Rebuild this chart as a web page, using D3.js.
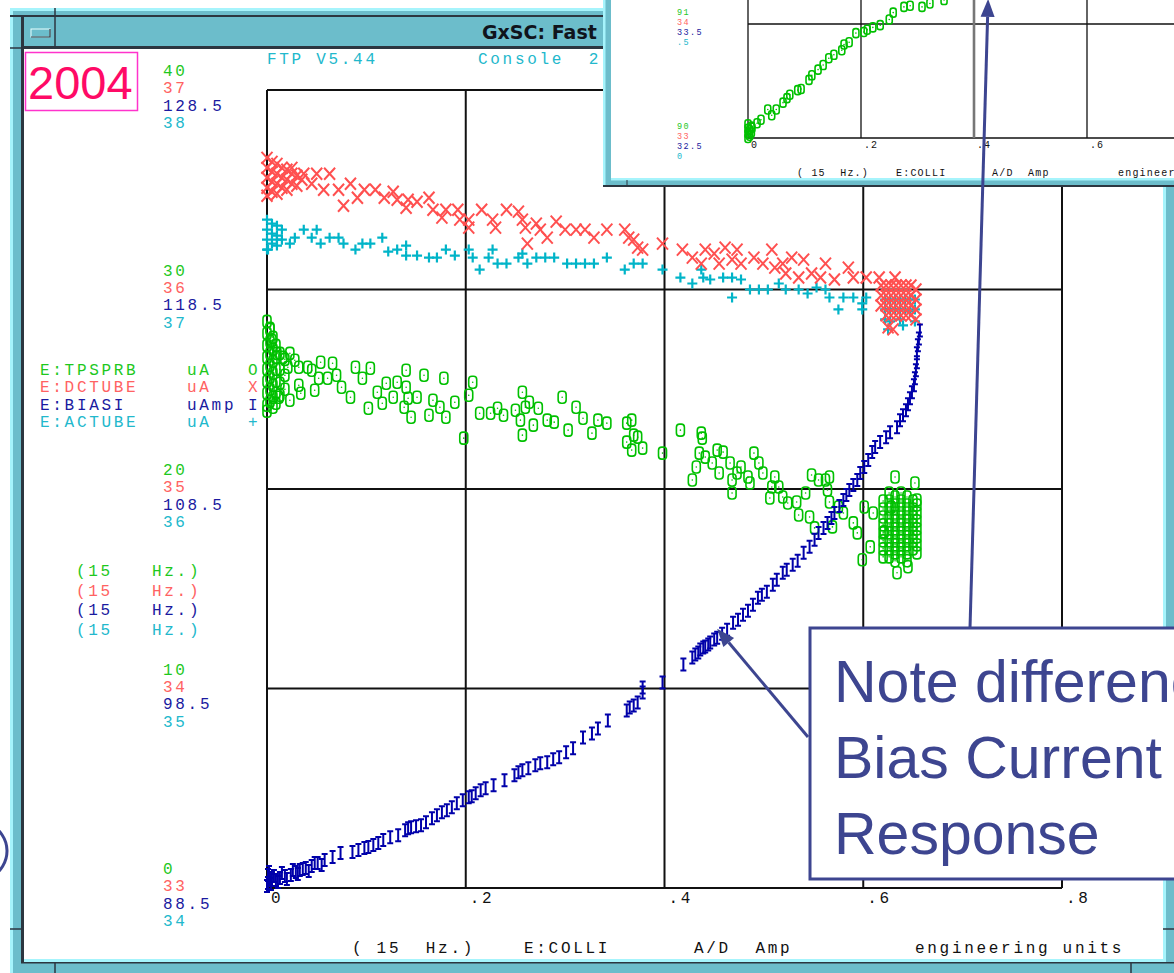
<!DOCTYPE html>
<html>
<head>
<meta charset="utf-8">
<script src="https://cdn.jsdelivr.net/npm/d3@7"></script>
<style>
  body { margin: 0; background: #fff; }
  svg { display: block; }
</style>
</head>
<body>
<svg id="chart" width="1174" height="973"></svg>
<script>
// ---- data ----
const xTicks = [0, 0.2, 0.4, 0.6, 0.8];
const tpsprbTicks = [0, 10, 20, 30, 40];
const dctubeTicks = [33, 34, 35, 36, 37];
const biasiTicks = [88.5, 98.5, 108.5, 118.5, 128.5];
const actubeTicks = [34, 35, 36, 37, 38];

const channels = ["E:TPSPRB", "E:DCTUBE", "E:BIASI", "E:ACTUBE"];
const units = ["uA", "uA", "uAmp", "uA"];
const symbols = ["O", "X", "I", "+"];

// E:TPSPRB (green O)
const tpsprb = [
  [0,28.4],[0,27.8],[0,27.2],[0,26.6],[0,26.0],[0,25.4],[0,24.8],[0,24.2],[0,23.9],
  [.003,28.0],[.003,27.4],[.003,26.8],[.003,26.2],[.003,25.6],[.003,25.0],[.003,24.4],
  [.006,27.6],[.006,27.0],[.006,26.4],[.006,25.8],[.006,25.2],[.006,24.6],[.006,24.1],
  [.009,27.2],[.009,26.6],[.009,26.0],[.009,25.4],[.009,24.8],[.009,24.3],
  [.013,26.8],[.013,26.0],[.013,25.3],[.013,24.7],[.018,26.5],[.018,25.7],[.018,25.0],
  [.003,28.06],[.005,27.45],[.010,26.8],[.016,26.6],[.023,26.8],[.028,26.45],[.021,26.1],[.032,26.1],
  [.041,26.1],[.045,25.95],[.054,26.35],[.066,26.3],[.052,25.55],[.061,25.55],[.070,25.7],[.032,25.2],
  [.034,24.8],[.048,24.95],[.023,24.45],[.012,24.6],[.075,25.1],[.084,24.6],[.089,26.1],[.096,25.55],
  [.104,26.05],[.102,24.05],[.111,24.85],[.116,24.3],[.120,25.3],[.127,24.6],[.131,25.35],[.140,25.95],
  [.140,25.1],[.142,24.55],[.138,24.1],[.145,23.6],[.151,24.6],[.158,25.7],[.163,23.7],[.167,24.45],
  [.174,24.1],[.178,25.55],[.180,23.6],[.189,24.35],[.203,24.7],[.207,25.35],[.198,22.55],[.214,23.8],
  [.225,23.8],[.232,24.05],[.238,23.7],[.250,23.95],[.257,24.85],[.260,24.1],[.255,23.45],[.257,22.7],
  [.264,24.35],[.268,23.2],[.273,24.05],[.282,23.45],[.289,23.35],[.297,24.6],[.303,22.95],[.311,24.1],
  [.318,23.55],[.327,22.8],[.333,23.45],[.342,23.3],[.362,23.3],[.367,23.45],[.362,22.35],[.369,22.7],
  [.373,22.6],[.378,22.05],[.367,21.95],[.398,21.8],[.416,22.95],[.437,22.8],[.438,22.55],[.435,21.8],
  [.441,21.6],[.432,21.1],[.428,20.45],[.448,21.3],[.453,21.95],[.459,21.85],[.455,20.8],[.466,21.3],
  [.473,20.8],[.468,20.45],[.477,21.1],[.484,20.6],[.486,20.3],[.490,21.8],[.495,21.3],[.499,20.8],
  [.511,20.6],[.508,20.1],[.515,20.1],[.468,19.8],[.519,19.6],[.524,19.3],[.506,19.55],[.533,19.35],
  [.542,19.8],[.548,20.7],[.555,20.45],[.562,20.45],[.566,20.6],[.535,18.7],[.546,18.6],[.551,18.05],
  [.564,19.95],[.566,19.35],[.575,19.1],[.580,18.8],[.569,18.1],[.590,18.3],[.594,17.8],[.601,19.1],
  [.610,18.8],[.607,17.1],[.599,16.45],[.621,17.85],[.628,19.1],[.632,20.6],[.652,20.3],[.654,19.45],
  [.634,15.8],[.645,16.1],
  [.620,19.4],[.620,19.0],[.620,18.6],[.620,18.2],[.620,17.8],[.620,17.4],[.620,17.0],[.620,16.6],
  [.626,19.8],[.626,19.4],[.626,19.0],[.626,18.6],[.626,18.2],[.626,17.8],[.626,17.4],[.626,17.0],[.626,16.6],
  [.632,19.6],[.632,19.2],[.632,18.8],[.632,18.4],[.632,18.0],[.632,17.6],[.632,17.2],[.632,16.8],[.632,16.4],
  [.638,19.8],[.638,19.4],[.638,19.0],[.638,18.6],[.638,18.2],[.638,17.8],[.638,17.4],[.638,17.0],[.638,16.6],
  [.644,19.6],[.644,19.2],[.644,18.8],[.644,18.4],[.644,18.0],[.644,17.6],[.644,17.2],[.644,16.8],[.644,16.4],
  [.650,19.4],[.650,19.0],[.650,18.6],[.650,18.2],[.650,17.8],[.650,17.4],[.650,17.0],
  [.654,19.2],[.654,18.8],[.654,18.4],[.654,18.0],[.654,17.6],[.654,17.2],[.654,16.8]
];

// E:DCTUBE (red X)
const dctube = [
  [0,36.66],[0,36.61],[0,36.56],[0,36.51],[0,36.47],[.005,36.64],[.005,36.59],[.005,36.54],[.005,36.49],
  [.010,36.63],[.010,36.58],[.010,36.53],[.010,36.48],[.015,36.61],[.015,36.56],[.015,36.51],
  [.020,36.60],[.020,36.55],[.020,36.50],[.025,36.58],[.025,36.53],[.030,36.57],[.030,36.52],[.035,36.55],
  [.025,36.61],[.037,36.58],[.050,36.58],[.063,36.58],[.045,36.53],[.057,36.50],[.072,36.50],[.084,36.53],
  [.077,36.42],[.091,36.46],[.098,36.50],[.109,36.50],[.118,36.46],[.127,36.49],[.131,36.45],[.142,36.45],
  [.140,36.41],[.151,36.44],[.163,36.46],[.167,36.40],[.180,36.40],[.176,36.36],[.192,36.40],[.194,36.35],
  [.203,36.35],[.203,36.31],[.216,36.40],[.227,36.35],[.230,36.31],[.241,36.40],[.253,36.39],[.257,36.35],
  [.260,36.31],[.262,36.23],[.271,36.33],[.275,36.30],[.282,36.26],[.291,36.34],[.300,36.30],[.311,36.30],
  [.320,36.30],[.329,36.26],[.342,36.30],[.360,36.30],[.364,36.26],[.369,36.25],[.373,36.21],[.378,36.20],
  [.398,36.23],[.418,36.20],[.428,36.16],[.441,36.20],[.450,36.18],[.461,36.21],[.473,36.20],[.437,36.13],
  [.455,36.13],[.468,36.15],[.477,36.13],[.490,36.16],[.499,36.13],[.508,36.20],[.511,36.11],[.519,36.13],
  [.528,36.16],[.540,36.15],[.522,36.08],[.535,36.06],[.548,36.08],[.562,36.13],[.557,36.06],[.571,36.05],
  [.585,36.11],[.590,36.06],[.603,36.06],[.616,36.06],[.632,36.06],[.625,35.81],[.630,35.80],
  [.618,36.02],[.618,35.97],[.618,35.92],[.623,36.02],[.623,35.97],[.623,35.92],[.623,35.87],
  [.628,36.02],[.628,35.97],[.628,35.92],[.628,35.87],[.633,36.02],[.633,35.97],[.633,35.92],[.633,35.87],
  [.638,36.02],[.638,35.97],[.638,35.92],[.638,35.87],[.643,36.02],[.643,35.97],[.643,35.92],[.643,35.87],
  [.648,36.02],[.648,35.97],[.648,35.92],[.648,35.87],[.653,36.00],[.653,35.95],[.653,35.90],[.653,35.85]
];

// E:BIASI (blue I)
const biasi = [
  [0,88.6],[.002,89.3],[.004,88.7],[.007,89.1],[.011,88.8],[.015,89.25],[.020,88.95],[.026,89.4],
  [.031,89.2],[.036,89.45],[.042,89.35],[.048,89.75],[.055,89.65],
  [.001,88.75],[.001,89.15],[.003,89.0],[.005,88.9],[.009,88.9],[.013,89.0],[.018,89.1],[.024,89.15],
  [.029,89.3],[.033,89.4],[.039,89.5],[.045,89.6],[.051,89.75],[.058,89.9],[.066,90.05],[.074,90.25],
  [.086,90.3],[.092,90.4],[.098,90.5],[.102,90.55],[.107,90.65],[.112,90.75],[.117,90.9],[.124,91.05],
  [.132,91.15],[.139,91.4],[.142,91.5],[.145,91.55],[.150,91.6],[.155,91.65],[.160,91.8],[.166,92.0],
  [.171,92.15],[.176,92.3],[.181,92.4],[.186,92.55],[.191,92.75],[.197,92.9],[.203,93.05],[.206,93.1],
  [.210,93.25],[.215,93.4],[.220,93.5],[.228,93.65],[.239,93.9],[.249,94.15],[.253,94.3],[.257,94.4],
  [.263,94.5],[.270,94.65],[.275,94.75],[.282,94.8],[.288,94.95],[.294,95.05],[.301,95.3],[.308,95.5],
  [.318,96.05],[.327,96.25],[.333,96.5],[.343,96.9],[.362,97.4],[.365,97.55],[.369,97.65],[.373,97.8],
  [.378,98.3],[.378,98.55],[.398,98.8],[.419,99.7],[.428,100.05],[.431,100.2],[.434,100.3],[.436,100.45],
  [.439,100.55],[.441,100.6],[.444,100.7],[.446,100.8],[.450,100.95],[.453,101.05],[.458,101.25],[.463,101.45],
  [.469,101.8],[.474,101.95],[.479,102.2],[.484,102.4],[.489,102.7],[.494,103.05],[.498,103.2],[.503,103.35],
  [.509,103.7],[.513,103.95],[.519,104.3],[.523,104.45],[.529,104.7],[.534,104.9],[.540,105.3],[.546,105.6],
  [.551,105.95],[.555,106.3],[.560,106.55],[.564,106.8],[.568,107.05],[.571,107.3],[.576,107.65],[.580,107.95],
  [.583,108.2],[.586,108.45],[.590,108.7],[.594,108.95],[.597,109.3],[.601,109.6],[.605,109.95],[.609,110.35],
  [.612,110.6],[.617,110.85],[.623,111.1],[.627,111.35],[.634,111.6],[.637,111.95],[.640,112.2],[.643,112.45],
  [.645,112.75],[.647,113.05],[.649,113.35],[.651,113.7],[.652,114.05],[.653,114.45],[.654,114.85],[.654,115.3],
  [.655,115.7],[.656,116.05],[.657,116.45]
];

// E:ACTUBE (cyan +)
const actube = [
  [0,37.35],[0,37.30],[0,37.25],[0,37.20],[.005,37.33],[.005,37.28],[.005,37.23],
  [.010,37.32],[.010,37.27],[.010,37.22],[.015,37.30],[.015,37.25],
  [.001,37.20],[.010,37.25],[.023,37.23],[.028,37.26],[.037,37.30],[.045,37.26],[.050,37.30],[.054,37.23],
  [.063,37.26],[.072,37.26],[.077,37.23],[.089,37.20],[.096,37.23],[.104,37.23],[.116,37.26],[.122,37.19],
  [.131,37.20],[.140,37.22],[.140,37.17],[.151,37.17],[.163,37.16],[.171,37.16],[.180,37.20],[.189,37.17],
  [.203,37.20],[.207,37.16],[.214,37.10],[.223,37.16],[.227,37.20],[.232,37.13],[.241,37.13],[.253,37.16],
  [.257,37.18],[.262,37.13],[.271,37.16],[.280,37.16],[.289,37.16],[.302,37.13],[.311,37.13],[.320,37.13],
  [.329,37.13],[.342,37.16],[.360,37.10],[.369,37.13],[.378,37.13],[.398,37.10],[.416,37.06],[.428,37.03],
  [.437,37.10],[.439,37.06],[.446,37.05],[.459,37.06],[.468,37.06],[.477,37.05],[.468,36.96],[.486,37.00],
  [.495,37.00],[.504,37.00],[.515,37.03],[.522,37.00],[.535,37.00],[.544,36.98],[.553,37.01],[.562,37.00],
  [.566,36.96],[.575,36.90],[.580,36.96],[.590,36.96],[.599,36.93],[.603,36.96],[.599,36.90],
  [.622,36.95],[.622,36.90],[.622,36.85],[.627,36.95],[.627,36.90],[.627,36.84],[.632,36.95],[.632,36.90],
  [.637,36.95],[.637,36.90],[.637,36.85],[.642,36.95],[.642,36.90],[.647,36.95],[.647,36.89],[.652,36.95],
  [.652,36.90],[.652,36.84],[.625,36.80],[.640,36.82]
];

// inset plot (earlier shot): E:TPSPRB vs E:COLLI
const insetTicks = [0, 0.2, 0.4, 0.6];
const insetTopLabels = ["91", "34", "33.5", ".5"];
const insetBottomLabels = ["90", "33", "32.5", "0"];
const insetTpsprb = [
  [0,90.0],[0,90.04],[0,90.08],[0,90.12],[.003,90.02],[.003,90.07],[.006,90.05],[.006,90.1],
  [.007,90.09],[.016,90.13],[.023,90.16],[.035,90.25],[.042,90.2],[.050,90.25],[.062,90.31],[.069,90.35],
  [.074,90.38],[.088,90.42],[.094,90.43],[.108,90.51],[.113,90.55],[.124,90.6],[.133,90.64],[.143,90.7],
  [.152,90.73],[.166,90.77],[.170,90.82],[.179,90.84],[.191,90.92],[.205,90.93],[.211,90.95],[.221,90.97],
  [.234,90.99],[.250,91.04],[.257,91.1],[.276,91.15],[.287,91.16],[.308,91.15],[.322,91.18],[.347,91.21]
];

// ---- drawing ----
const svg = d3.select("#chart");
const mono = "'Liberation Mono','DejaVu Sans Mono',monospace";
const col = {
  green: "#00c000", red: "#ff5050", blue: "#0000aa", cyan: "#00b4c8",
  tGreen: "#1ec81e", tRed: "#ff6262", tBlue: "#1a1aa0", tCyan: "#22b8cc",
  teal: "#6cbdcb", light: "#a6f4fc", dark: "#2c3640", note: "#3d4590"
};
const seriesText = [col.tGreen, col.tRed, col.tBlue, col.tCyan];

const x = d3.scaleLinear().domain([0, 0.8]).range([267, 1062]);
const yG = d3.scaleLinear().domain([0, 40]).range([888, 90]);
const yR = d3.scaleLinear().domain([33, 37]).range([888, 90]);
const yB = d3.scaleLinear().domain([88.5, 128.5]).range([888, 90]);
const yC = d3.scaleLinear().domain([34, 38]).range([888, 90]);

// slide remnant on the left
svg.append("path").attr("transform", "translate(-22,851)")
  .attr("d", "M" + 29*Math.sin(0.4) + "," + (-29*Math.cos(0.4)) + " A29,29 0 0,1 " + 29*Math.sin(2.7) + "," + (-29*Math.cos(2.7)))
  .attr("fill", "none").attr("stroke", col.note).attr("stroke-width", 3);

// main window frame
const win = svg.append("g");
win.append("rect").attr("x", 10).attr("y", 8).attr("width", 1164).attr("height", 965).attr("fill", col.teal);
win.append("rect").attr("x", 10).attr("y", 8).attr("width", 3).attr("height", 965).attr("fill", col.light);
win.append("rect").attr("x", 10).attr("y", 8).attr("width", 1164).attr("height", 3).attr("fill", col.light);
win.append("rect").attr("x", 10).attr("y", 15).attr("width", 1164).attr("height", 2).attr("fill", col.dark);
win.append("rect").attr("x", 21).attr("y", 15).attr("width", 3).attr("height", 948).attr("fill", col.dark);
win.append("rect").attr("x", 21).attr("y", 46).attr("width", 1153).attr("height", 3).attr("fill", col.dark);
win.append("rect").attr("x", 24).attr("y", 49).attr("width", 1139).attr("height", 910).attr("fill", "#fff");
win.append("rect").attr("x", 1163).attr("y", 49).attr("width", 3).attr("height", 914).attr("fill", col.light);
win.append("rect").attr("x", 24).attr("y", 959).attr("width", 1142).attr("height", 3).attr("fill", col.light);
win.append("rect").attr("x", 21).attr("y", 962).attr("width", 1153).attr("height", 1.5).attr("fill", col.dark);
[[55, 8, 55, 49], [55, 963, 55, 973], [1131, 963, 1131, 973], [10, 929, 22, 929], [1163, 929, 1174, 929], [10, 48, 22, 48]]
  .forEach(([a, b, c, d]) => win.append("line").attr("x1", a).attr("y1", b).attr("x2", c).attr("y2", d)
    .attr("stroke", col.dark).attr("stroke-width", 1.5));
// minimize button
win.append("rect").attr("x", 31).attr("y", 29).attr("width", 19).attr("height", 8).attr("fill", col.teal)
  .attr("stroke", "#e8ffff").attr("stroke-width", 1);
win.append("path").attr("d", "M31,37H50V29").attr("fill", "none").attr("stroke", col.dark).attr("stroke-width", 1.2);
win.append("text").attr("x", 482).attr("y", 32).attr("dominant-baseline", "central")
  .attr("font-family", "'DejaVu Sans',sans-serif").attr("font-weight", "bold").attr("font-size", 19)
  .attr("fill", "#10141c").text("GxSC: Fast Time Plot");

// year box
svg.append("rect").attr("x", 25.5).attr("y", 52.5).attr("width", 112).attr("height", 58)
  .attr("fill", "#fff").attr("stroke", "#ff33cc").attr("stroke-width", 1.5);
svg.append("text").attr("x", 28).attr("y", 99).attr("font-family", "'Liberation Sans',Arial,sans-serif")
  .attr("font-size", 47).attr("fill", "#ff0a66").text("2004");

function monoText(g, tx, ty, str, color, size, spacing) {
  return g.append("text").attr("x", tx).attr("y", ty).attr("dominant-baseline", "central")
    .attr("font-family", mono).attr("font-size", size || 16).attr("letter-spacing", spacing === undefined ? 2.7 : spacing)
    .attr("fill", color).attr("xml:space", "preserve").style("white-space", "pre").text(str);
}

const chart = svg.append("g");
monoText(chart, 267, 60, "FTP V5.44", col.tCyan);
monoText(chart, 478, 60, "Console  2", col.tCyan);

// grid
chart.selectAll("line.h").data(tpsprbTicks).join("line")
  .attr("x1", x(0)).attr("x2", x(0.8)).attr("y1", d => yG(d)).attr("y2", d => yG(d))
  .attr("stroke", "#111").attr("stroke-width", 2);
chart.selectAll("line.v").data(xTicks).join("line")
  .attr("x1", d => x(d)).attr("x2", d => x(d)).attr("y1", yG(40)).attr("y2", yG(0))
  .attr("stroke", "#111").attr("stroke-width", 2);

// stacked y labels
const tickSets = [tpsprbTicks, dctubeTicks, biasiTicks, actubeTicks];
tpsprbTicks.forEach((t, k) => {
  tickSets.forEach((ts, i) => monoText(chart, 163, yG(t) - 18 + 17.4 * i, String(ts[k]), seriesText[i]));
});

// x labels
const fmtX = d => d === 0 ? "0" : String(d).replace("0.", ".");
xTicks.forEach(t => monoText(chart, x(t) + 4, 899, fmtX(t), "#111"));

// legend
channels.forEach((c, i) => {
  const yy = 371 + 17.4 * i;
  monoText(chart, 40, yy, c, seriesText[i]);
  monoText(chart, 187, yy, units[i], seriesText[i]);
  monoText(chart, 248, yy, symbols[i], seriesText[i]);
  monoText(chart, 76, 572 + 19.5 * i, "(15", seriesText[i]);
  monoText(chart, 152, 572 + 19.5 * i, "Hz.)", seriesText[i]);
});

// bottom caption
monoText(chart, 352, 949, "( 15  Hz.)", "#111");
monoText(chart, 524, 949, "E:COLLI", "#111");
monoText(chart, 694, 949, "A/D  Amp", "#111");
monoText(chart, 915, 949, "engineering units", "#111");

// markers
const shapes = {
  X: "M-5.5,-6L5.5,6M5.5,-6L-5.5,6",
  I: "M0,-6V6M-3,-6H3M-3,6H3",
  P: "M-5,0H5M0,-5V5"
};
function drawO(g, data, xs, ys, color, w, h) {
  const s = g.append("g");
  s.selectAll("rect").data(data).join("rect")
    .attr("x", d => xs(d[0]) - w / 2).attr("y", d => ys(d[1]) - h / 2)
    .attr("width", w).attr("height", h).attr("rx", w / 2.5)
    .attr("fill", "none").attr("stroke", color).attr("stroke-width", 1.6);
  s.selectAll("circle").data(data).join("circle")
    .attr("cx", d => xs(d[0])).attr("cy", d => ys(d[1])).attr("r", 0.8).attr("fill", color);
}
function drawPath(g, data, xs, ys, shape, color, sw) {
  g.append("g").selectAll("path").data(data).join("path")
    .attr("transform", d => `translate(${xs(d[0])},${ys(d[1])})`)
    .attr("d", shapes[shape]).attr("fill", "none").attr("stroke", color).attr("stroke-width", sw);
}
drawO(chart, tpsprb, x, yG, col.green, 8, 12);
drawPath(chart, actube, x, yC, "P", col.cyan, 2.2);
drawPath(chart, dctube, x, yR, "X", col.red, 2);
drawPath(chart, biasi, x, yB, "I", col.blue, 2);

// ---- inset window (earlier scan) ----
const xi = d3.scaleLinear().domain([0, 0.8]).range([748, 1200]);
const yi = d3.scaleLinear().domain([90, 91]).range([138, 24]);
const inset = svg.append("g");
inset.append("rect").attr("x", 603).attr("y", 0).attr("width", 571).attr("height", 187).attr("fill", col.teal);
inset.append("rect").attr("x", 603).attr("y", 0).attr("width", 2.5).attr("height", 187).attr("fill", col.light);
inset.append("rect").attr("x", 611).attr("y", 0).attr("width", 563).attr("height", 178).attr("fill", "#fff");
inset.append("rect").attr("x", 611).attr("y", 178).attr("width", 563).attr("height", 2.5).attr("fill", col.light);
inset.append("rect").attr("x", 603).attr("y", 185).attr("width", 571).attr("height", 2).attr("fill", col.dark);
inset.append("line").attr("x1", 627).attr("x2", 627).attr("y1", 180).attr("y2", 187).attr("stroke", col.dark);

inset.selectAll("line.ih").data([90, 91]).join("line")
  .attr("x1", xi(0)).attr("x2", 1174).attr("y1", d => yi(d)).attr("y2", d => yi(d))
  .attr("stroke", "#111").attr("stroke-width", 1.3);
inset.selectAll("line.iv").data(insetTicks).join("line")
  .attr("x1", d => xi(d)).attr("x2", d => xi(d)).attr("y1", 0).attr("y2", yi(90))
  .attr("stroke", d => d === 0.4 ? "#777" : "#111").attr("stroke-width", d => d === 0.4 ? 2.6 : 1.3);
insetTopLabels.forEach((s, i) => monoText(inset, 677, yi(91) - 11 + 10 * i, s, seriesText[i], 8.5, 1.4));
insetBottomLabels.forEach((s, i) => monoText(inset, 677, yi(90) - 11 + 10 * i, s, seriesText[i], 8.5, 1.4));
insetTicks.forEach(t => monoText(inset, xi(t) + 3, 145, fmtX(t), "#111", 10, 1));
monoText(inset, 797, 173, "( 15  Hz.)", "#111", 10, 1.2);
monoText(inset, 896, 173, "E:COLLI", "#111", 10, 1.2);
monoText(inset, 992, 173, "A/D  Amp", "#111", 10, 1.2);
monoText(inset, 1118, 173, "engineering units", "#111", 10, 1.2);
drawO(inset, insetTpsprb, xi, yi, col.green, 6, 9);

// ---- callout ----
const note = svg.append("g");
function arrow(g, x1, y1, x2, y2) {
  const a = Math.atan2(y2 - y1, x2 - x1), L = 18, w = 7;
  const bx = x2 - L * Math.cos(a), by = y2 - L * Math.sin(a);
  g.append("line").attr("x1", x1).attr("y1", y1).attr("x2", bx).attr("y2", by)
    .attr("stroke", col.note).attr("stroke-width", 3);
  g.append("path").attr("d", `M${x2},${y2}L${bx - w * Math.sin(a)},${by + w * Math.cos(a)}L${bx + w * Math.sin(a)},${by - w * Math.cos(a)}Z`)
    .attr("fill", col.note);
}
arrow(note, 808, 737, x(0.453), yB(101.5));
arrow(note, 970, 628, xi(0.425), yi(91.22));
note.append("rect").attr("x", 810).attr("y", 628).attr("width", 420).attr("height", 251)
  .attr("fill", "#fff").attr("stroke", col.note).attr("stroke-width", 3);
["Note difference in", "Bias Current", "Response"].forEach((s, i) =>
  note.append("text").attr("x", 834).attr("y", 702 + 76 * i)
    .attr("font-family", "'Liberation Sans',Arial,sans-serif").attr("font-size", 59)
    .attr("fill", col.note).text(s));
</script>
</body>
</html>
